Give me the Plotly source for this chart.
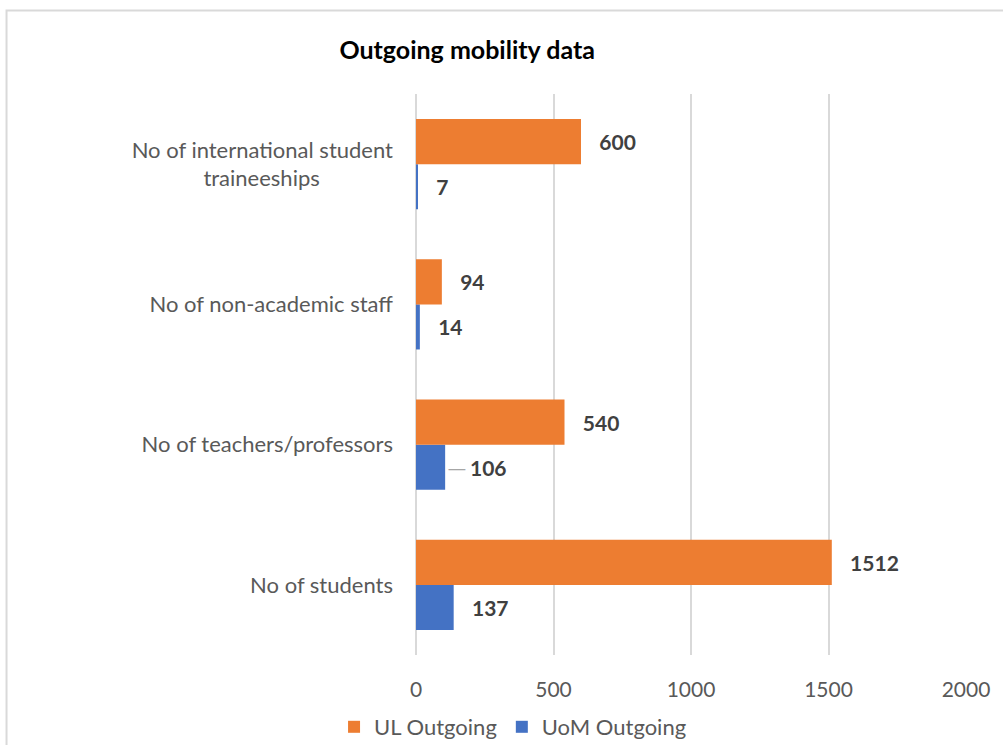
import plotly.graph_objects as go

categories = [
    "No of students",
    "No of teachers/professors",
    "No of non-academic staff",
    "No of international student<br>traineeships" + "\u00a0" * 13,
]
ul_outgoing = [1512, 540, 94, 600]
uom_outgoing = [137, 106, 14, 7]

FONT = "Lato, 'Open Sans', sans-serif"
GREY = "#595959"


def label(v, leader=False):
    if leader:
        return ("<span style='color:#a6a6a6;font-weight:normal'>\u2500</span>"
                "\u00a0" + str(v))
    return "\u00a0\u00a0\u00a0" + str(v)


fig = go.Figure()
fig.add_trace(go.Bar(
    y=categories, x=uom_outgoing, orientation="h", name="UoM Outgoing",
    marker=dict(color="#4472C4", line=dict(width=0)),
    text=[label(v, v == 106) for v in uom_outgoing],
    textposition="outside", cliponaxis=False,
    textfont=dict(family=FONT, size=21, color="#404040", weight="bold"),
    legendrank=2,
))
fig.add_trace(go.Bar(
    y=categories, x=ul_outgoing, orientation="h", name="UL Outgoing",
    marker=dict(color="#ED7D31", line=dict(width=0)),
    text=[label(v) for v in ul_outgoing],
    textposition="outside", cliponaxis=False,
    textfont=dict(family=FONT, size=21, color="#404040", weight="bold"),
    legendrank=1,
))

fig.update_layout(
    width=1003, height=745,
    margin=dict(l=416, r=37, t=94, b=90, autoexpand=False),
    paper_bgcolor="white", plot_bgcolor="white",
    barmode="group", bargap=0.357, bargroupgap=0,
    font=dict(family=FONT, size=22, color=GREY),
    title=dict(
        text="<b>Outgoing mobility data</b>",
        x=0.093, xref="paper", xanchor="center",
        y=1 - 50 / 745, yref="container", yanchor="middle",
        font=dict(family=FONT, size=25, color="black"),
    ),
    legend=dict(
        orientation="h", x=-0.149, xanchor="left",
        y=1 - 727 / 745, yref="container", yanchor="middle",
        font=dict(family=FONT, size=22, color=GREY),
        itemwidth=30, traceorder="normal",
    ),
)
fig.update_xaxes(
    range=[0, 2000], tickvals=[0, 500, 1000, 1500, 2000],
    showgrid=True, gridcolor="#d9d9d9", gridwidth=1.5,
    zeroline=True, zerolinecolor="#d9d9d9", zerolinewidth=1.5,
    showline=False, ticks="", ticklabelstandoff=20,
    tickfont=dict(family=FONT, size=21, color=GREY),
)
fig.update_yaxes(
    showgrid=False, zeroline=False, showline=False, ticks="",
    ticklabelstandoff=22,
    tickfont=dict(family=FONT, size=22, color=GREY),
)
fig.add_shape(
    type="rect", xref="paper", yref="paper",
    x0=-0.7445, x1=1.2, y0=-0.3, y1=(655 - 10.5) / 561,
    line=dict(color="#d9d9d9", width=2), layer="below",
)

fig.write_html(
    "out.html",
    config={"displayModeBar": False},
    post_script="document.body.style.margin='0';",
)
